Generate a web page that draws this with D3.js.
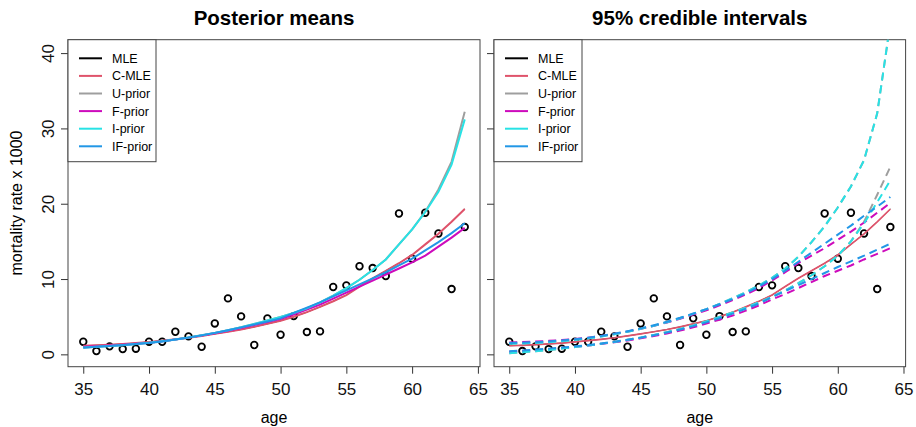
<!DOCTYPE html>
<html>
<head>
<meta charset="utf-8">
<script src="https://cdn.jsdelivr.net/npm/d3@7"></script>
<style>
  body { margin: 0; background: #fff; }
  svg { font-family: "Liberation Sans", Arial, sans-serif; }
</style>
</head>
<body>
<svg id="chart" width="916" height="427"></svg>
<script>
// observed data: age and mortality rate x 1000
const ages = [35, 36, 37, 38, 39, 40, 41, 42, 43, 44, 45, 46, 47, 48, 49,
              50, 51, 52, 53, 54, 55, 56, 57, 58, 59, 60, 61, 62, 63, 64];
const observed = [1.67, 0.44, 1.06, 0.70, 0.75, 1.67, 1.67, 3.0, 2.39, 1.01, 4.1, 7.43, 5.04, 1.24, 4.78,
                  2.6, 5.08, 2.96, 3.05, 8.94, 9.16, 11.7, 11.46, 10.4, 18.7, 12.7, 18.8, 16.05, 8.67, 16.9];

// posterior means (left panel)
const cmle = [1.14, 1.2, 1.28, 1.38, 1.5, 1.65, 1.82, 2.0, 2.2, 2.45, 2.72, 3.0, 3.3, 3.65, 4.05,
              4.46, 5.0, 5.6, 6.3, 7.05, 7.87, 9.0, 10.1, 11.1, 12.1, 13.2, 14.6, 16.0, 17.6, 19.3];
const mle = cmle.slice();
const uPrior = [0.9, 1.0, 1.1, 1.22, 1.37, 1.55, 1.75, 1.98, 2.24, 2.53, 2.85, 3.2, 3.6, 4.05, 4.5,
                4.95, 5.5, 6.1, 6.9, 7.8, 8.8, 9.9, 11.2, 12.6, 14.6, 16.6, 18.95, 21.9, 25.6, 32.2];
const fPrior = [1.0, 1.08, 1.17, 1.28, 1.4, 1.54, 1.74, 1.97, 2.22, 2.5, 2.8, 3.13, 3.5, 3.88, 4.28,
                4.7, 5.3, 5.95, 6.6, 7.4, 8.2, 9.0, 9.8, 10.6, 11.4, 12.2, 13.1, 14.3, 15.5, 16.8];
const iPrior = [0.9, 1.0, 1.1, 1.22, 1.37, 1.55, 1.75, 1.98, 2.24, 2.53, 2.85, 3.2, 3.6, 4.05, 4.5,
                4.95, 5.5, 6.1, 6.9, 7.8, 8.8, 9.9, 11.2, 12.6, 14.6, 16.6, 18.9, 21.6, 25.2, 31.2];
const ifPrior = [0.88, 1.0, 1.12, 1.24, 1.37, 1.5, 1.72, 1.96, 2.22, 2.52, 2.85, 3.2, 3.58, 3.95, 4.35,
                 4.78, 5.5, 6.2, 6.9, 7.7, 8.5, 9.3, 10.1, 10.9, 11.8, 12.7, 13.8, 14.9, 16.1, 17.4];

// 95% credible intervals (right panel)
const iUpper = [1.4, 1.45, 1.52, 1.62, 1.75, 1.92, 2.12, 2.37, 2.67, 3.0, 3.38, 3.8, 4.27, 4.8, 5.38,
                6.0, 6.7, 7.45, 8.25, 9.15, 10.15, 11.4, 12.95, 14.9, 17.0, 19.5, 22.3, 25.8, 32.0, 44.0];
const iLower = [0.15, 0.28, 0.42, 0.58, 0.76, 0.96, 1.17, 1.4, 1.65, 1.93, 2.23, 2.57, 2.95, 3.37, 3.85,
                4.38, 4.95, 5.55, 6.2, 6.9, 7.65, 8.5, 9.45, 10.5, 11.7, 13.1, 15.0, 17.4, 20.2, 23.1];
const uUpper = iUpper.slice();
const uLower = [0.15, 0.28, 0.42, 0.58, 0.76, 0.96, 1.17, 1.4, 1.65, 1.93, 2.23, 2.57, 2.95, 3.37, 3.85,
                4.38, 4.95, 5.55, 6.2, 6.9, 7.65, 8.5, 9.45, 10.5, 11.7, 13.1, 15.0, 17.6, 21.2, 24.9];
const fUpper = [1.58, 1.63, 1.7, 1.79, 1.9, 2.04, 2.22, 2.45, 2.72, 3.03, 3.38, 3.78, 4.22, 4.72, 5.27,
                5.85, 6.5, 7.2, 7.95, 8.8, 9.8, 10.9, 12.1, 13.1, 14.1, 15.2, 16.3, 17.5, 18.8, 20.1];
const fLower = [0.35, 0.45, 0.56, 0.69, 0.83, 1.0, 1.18, 1.38, 1.6, 1.85, 2.13, 2.44, 2.78, 3.16, 3.58,
                4.1, 4.6, 5.15, 5.8, 6.5, 7.3, 8.0, 8.8, 9.6, 10.4, 11.1, 11.8, 12.6, 13.35, 14.1];
const ifUpper = [1.5, 1.55, 1.62, 1.72, 1.85, 2.0, 2.2, 2.45, 2.75, 3.08, 3.45, 3.87, 4.33, 4.85, 5.42,
                 6.0, 6.65, 7.35, 8.1, 9.0, 10.0, 11.1, 12.3, 13.5, 14.7, 15.9, 17.1, 18.4, 19.6, 20.9];
const ifLower = [0.42, 0.52, 0.63, 0.76, 0.9, 1.06, 1.24, 1.45, 1.68, 1.94, 2.22, 2.54, 2.9, 3.3, 3.75,
                 4.25, 4.8, 5.4, 6.05, 6.75, 7.6, 8.4, 9.2, 10.0, 10.8, 11.6, 12.35, 13.1, 13.9, 14.7];

const xTicks = [35, 40, 45, 50, 55, 60, 65];
const yTicks = [0, 10, 20, 30, 40];
const legendNames = ['MLE', 'C-MLE', 'U-prior', 'F-prior', 'I-prior', 'IF-prior'];
const legendColors = ['#000000', '#DF536B', '#9E9E9E', '#CD0BBC', '#28E2E5', '#2297E6'];

const svg = d3.select('#chart');
const plotTop = 39.7, plotBottom = 366.7;

const y = d3.scaleLinear().domain([-1.64, 41.78]).range([plotBottom, plotTop]);

function drawPanel(id, left, right, title, showYLabels) {
  const x = d3.scaleLinear().domain([33.84, 65.16]).range([left, right]);
  const g = svg.append('g');

  g.append('clipPath').attr('id', 'clip-' + id)
    .append('rect')
    .attr('x', left).attr('y', plotTop)
    .attr('width', right - left).attr('height', plotBottom - plotTop);

  // axes
  const xAxis = g.append('g')
    .attr('transform', `translate(0,${plotBottom})`)
    .call(d3.axisBottom(x).tickValues(xTicks).tickSize(7).tickPadding(9));
  xAxis.select('.domain').remove();
  xAxis.selectAll('line').attr('stroke', '#333');
  xAxis.selectAll('text').attr('font-size', 17).attr('fill', '#111');

  const yAxis = g.append('g')
    .attr('transform', `translate(${left},0)`)
    .call(d3.axisLeft(y).tickValues(yTicks).tickSize(7)
      .tickFormat(showYLabels ? d3.format('d') : ''));
  yAxis.select('.domain').remove();
  yAxis.selectAll('line').attr('stroke', '#333');
  yAxis.selectAll('text')
    .attr('font-size', 17).attr('fill', '#111')
    .attr('x', 0).attr('dy', 0)
    .attr('text-anchor', 'middle')
    .attr('transform', 'translate(-14,0) rotate(-90)');

  // frame
  g.append('rect')
    .attr('x', left).attr('y', plotTop)
    .attr('width', right - left).attr('height', plotBottom - plotTop)
    .attr('fill', 'none').attr('stroke', '#444').attr('stroke-width', 1);

  g.append('text')
    .attr('x', (left + right) / 2).attr('y', 25)
    .attr('text-anchor', 'middle')
    .attr('font-size', 20.5).attr('font-weight', 'bold')
    .text(title);

  g.append('text')
    .attr('x', (left + right) / 2).attr('y', 423)
    .attr('text-anchor', 'middle')
    .attr('font-size', 16)
    .text('age');

  // observed points
  g.append('g').selectAll('circle')
    .data(ages)
    .enter()
    .append('circle')
    .attr('cx', (d) => x(d))
    .attr('cy', (d, i) => y(observed[i]))
    .attr('r', 3.3)
    .attr('fill', 'none')
    .attr('stroke', '#000')
    .attr('stroke-width', 1.8);

  // legend
  const lg = g.append('g').attr('transform', `translate(${left},${plotTop})`);
  lg.append('rect')
    .attr('x', 0).attr('y', 0).attr('width', 88).attr('height', 122)
    .attr('fill', '#fff').attr('stroke', '#444');
  legendNames.forEach((name, i) => {
    const ly = 18.6 + i * 17.6;
    lg.append('line')
      .attr('x1', 11).attr('x2', 34).attr('y1', ly).attr('y2', ly)
      .attr('stroke', legendColors[i]).attr('stroke-width', 2);
    lg.append('text')
      .attr('x', 44).attr('y', ly + 4.5)
      .attr('font-size', 12.5)
      .text(name);
  });

  const line = d3.line()
    .x((d, i) => x(ages[i]))
    .y((d) => y(d));

  return { g, line, clip: `url(#clip-${id})` };
}

// left panel: posterior means (MLE sits underneath C-MLE)
const p1 = drawPanel('left', 68, 480, 'Posterior means', true);
const meanSeries = [mle, cmle, uPrior, fPrior, iPrior, ifPrior];
p1.g.append('g').attr('clip-path', p1.clip)
  .selectAll('path')
  .data(meanSeries)
  .enter()
  .append('path')
  .attr('fill', 'none')
  .attr('stroke', (d, i) => legendColors[i])
  .attr('stroke-width', (d, i) => (i === 0 ? 1 : 2))
  .attr('d', p1.line);

// right panel: credible intervals
const p2 = drawPanel('right', 494, 905.6, '95% credible intervals', false);
const cl = p2.g.append('g').attr('clip-path', p2.clip);
[mle, cmle].forEach((s, i) => {
  cl.append('path')
    .datum(s)
    .attr('fill', 'none')
    .attr('stroke', legendColors[i])
    .attr('stroke-width', i === 0 ? 0.8 : 1.7)
    .attr('d', p2.line);
});
const bands = [
  { lo: uLower, hi: uUpper, color: legendColors[2] },
  { lo: fLower, hi: fUpper, color: legendColors[3] },
  { lo: iLower, hi: iUpper, color: legendColors[4] },
  { lo: ifLower, hi: ifUpper, color: legendColors[5] }
];
bands.forEach((b) => {
  [b.lo, b.hi].forEach((s) => {
    cl.append('path')
      .datum(s)
      .attr('fill', 'none')
      .attr('stroke', b.color)
      .attr('stroke-width', 2)
      .attr('stroke-dasharray', '8,5')
      .attr('d', p2.line);
  });
});

// shared y label
svg.append('text')
  .attr('transform', 'translate(22,203) rotate(-90)')
  .attr('text-anchor', 'middle')
  .attr('font-size', 16)
  .text('mortality rate x 1000');
</script>
</body>
</html>
